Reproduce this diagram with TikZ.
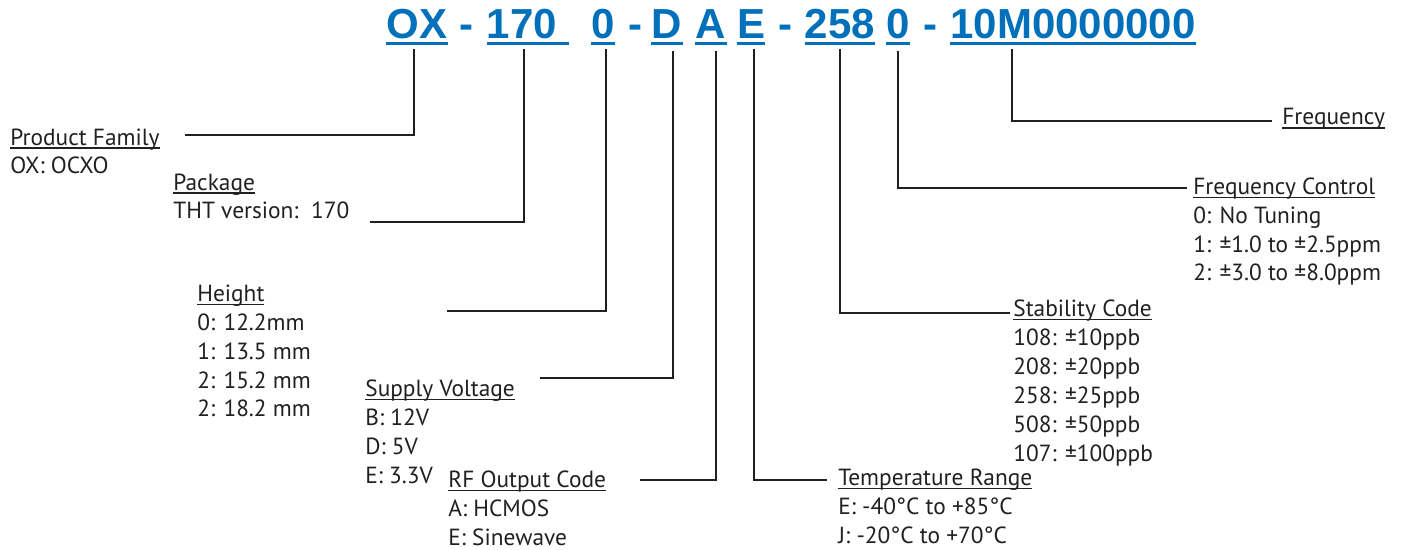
\documentclass[tikz,border=0pt]{standalone}
\usepackage{fontspec}
\setmainfont{PT Sans}
\newfontfamily\codefont{Liberation Sans}
\usetikzlibrary{calc}
\definecolor{codeblue}{HTML}{0070BA}
\definecolor{inkdark}{HTML}{231F20}
\newcommand\headul[1]{\setbox0\hbox{#1}\rlap{\rule[-2pt]{\wd0}{0.75pt}}\box0}

\tikzset{
  code/.style={text=codeblue, font=\codefont\bfseries\fontsize{23.9pt}{26pt}\selectfont, inner sep=0pt, anchor=base},
  codeline/.style={draw=codeblue, line width=1.7pt},
  info/.style={text=inkdark, font=\fontsize{13.3pt}{16.4pt}\selectfont, inner sep=0pt, anchor=base west, align=left},
  lead/.style={draw=inkdark, line width=1.4pt},
}

\begin{document}
\begin{tikzpicture}[x=0.02cm,y=-0.02cm]
\useasboundingbox (0,0) rectangle (1407,550);
% part number
\node[code] (ox) at (417,39) {OX};
\node[code] (d1) at (466,39) {-};
\node[code] (pkg) at (522,39) {170};
\node[code] (hgt) at (603,39) {0};
\node[code] (d2) at (635,39) {-};
\node[code] (volt) at (667,39) {D};
\node[code] (outp) at (711,39) {A};
\node[code] (temp) at (751,39) {E};
\node[code] (d3) at (785,39) {-};
\node[code] (stab) at (840,39) {258};
\node[code] (ctrl) at (898,39) {0};
\node[code] (d4) at (930,39) {-};
\node[code] (freq) at (1073,39) {10M0000000};
\foreach \n in {ox,hgt,volt,outp,temp,stab,ctrl,freq}
  \draw[codeline] ($(\n.base west)+(0,4.5)$) -- ($(\n.base east)+(0,4.5)$);
\draw[codeline] ($(pkg.base west)+(0,4.5)$) -- ($(pkg.base east)+(12,4.5)$);

% field descriptions (placed at the baseline of their last line)
\node[info] (pf) at (10,174) {\headul{Product Family}\\OX: OCXO};
\node[info] (pk) at (173,219) {\headul{Package}\\THT version:\ \ 170};
\node[info] (ht) at (197,417) {\headul{Height}\\0: 12.2mm\\1: 13.5 mm\\2: 15.2 mm\\2: 18.2 mm};
\node[info] (sv) at (365,483) {\headul{Supply Voltage}\\B: 12V\\D: 5V\\E: 3.3V};
\node[info] (rf) at (448,545) {\headul{RF Output Code}\\A: HCMOS\\E: Sinewave};
\node[info] (tr) at (838,543) {\headul{Temperature Range}\\E: -40°C to +85°C\\J: -20°C to +70°C};
\node[info] (sc) at (1013,461) {\headul{Stability Code}\\108: ±10ppb\\208: ±20ppb\\258: ±25ppb\\508: ±50ppb\\107: ±100ppb};
\node[info] (fc) at (1193,281) {\headul{Frequency Control}\\0: No Tuning\\1: ±1.0 to ±2.5ppm\\2: ±3.0 to ±8.0ppm};
\node[info] (fq) at (1282,125) {\headul{Frequency}};

% leader lines
\coordinate (pfend) at (185,135);
\coordinate (pkend) at (370,222);
\coordinate (htend) at (447,311);
\coordinate (svend) at (540,378);
\coordinate (rfend) at (640,480);
\coordinate (trend) at (827,480);
\coordinate (scend) at (1010,313);
\coordinate (fcend) at (1187,188);
\coordinate (fqend) at (1272,121);
\draw[lead] ($(ox.base)+(-3,10)$) |- (pfend);
\draw[lead] ($(pkg.base)+(2,10)$) |- (pkend);
\draw[lead] ($(hgt.base)+(3,10)$) |- (htend);
\draw[lead] ($(volt.base)+(6,12)$) |- (svend);
\draw[lead] ($(outp.base)+(5,12)$) |- (rfend);
\draw[lead] ($(temp.base)+(3,10)$) |- (trend);
\draw[lead] ($(stab.base)+(0,10)$) |- (scend);
\draw[lead] ($(ctrl.base)+(0,12)$) |- (fcend);
\draw[lead] ($(freq.base)+(-61,10)$) |- (fqend);
\end{tikzpicture}
\end{document}
